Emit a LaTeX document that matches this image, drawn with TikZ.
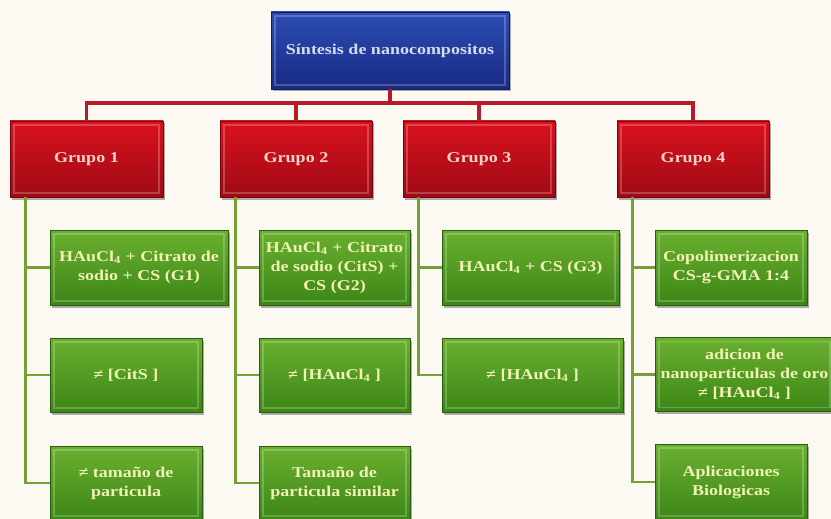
\documentclass[tikz,border=0pt]{standalone}
\usepackage{fontspec}
\setmainfont{Liberation Serif}[FakeStretch=1.2]
\usetikzlibrary{shadows,calc}
\definecolor{bgc}{HTML}{FBF9F1}
\definecolor{bluetop}{HTML}{2C4DB4}
\definecolor{bluebot}{HTML}{182A84}
\definecolor{bluetxt}{HTML}{D6DCEC}
\definecolor{redtop}{HTML}{D8121E}
\definecolor{redbot}{HTML}{A00A14}
\definecolor{redtxt}{HTML}{F6D4CC}
\definecolor{greentop}{HTML}{6AB030}
\definecolor{greenbot}{HTML}{3C8616}
\definecolor{greentxt}{HTML}{F2F2B4}
\definecolor{redln}{HTML}{B81A28}
\definecolor{greenln}{HTML}{76A036}
\tikzset{
  bevel/.style={path picture={
    \draw[white,opacity=0.22,line width=1.2pt]
      ([shift={(4pt,-4pt)}]path picture bounding box.north west) rectangle
      ([shift={(-4pt,4pt)}]path picture bounding box.south east);}},
  box/.style={rectangle, inner sep=2pt, align=center, font=\fontsize{15}{19}\selectfont\bfseries,
    drop shadow={shadow xshift=2pt, shadow yshift=-2.5pt, opacity=0.45, fill=black!70}, bevel},
  bluebox/.style={box, top color=bluetop, bottom color=bluebot, draw=bluebot!70!black, text=bluetxt},
  redbox/.style={box, top color=redtop, bottom color=redbot, draw=redbot!70!black, text=redtxt},
  greenbox/.style={box, top color=greentop, bottom color=greenbot, draw=greenbot!70!black, text=greentxt},
  redline/.style={draw=redln, line width=3.5pt},
  greenline/.style={draw=greenln, line width=2.8pt},
}
\begin{document}
\begin{tikzpicture}[x=1pt,y=-1pt]
\fill[bgc] (0,0) rectangle (831,519);
\useasboundingbox (0,0) rectangle (831,519);

\node[bluebox, minimum width=238pt, minimum height=77pt] (top) at (390,50.5) {Síntesis de nanocompositos};

\node[redbox, minimum width=153pt, minimum height=76pt] (g1) at (86.5,159) {Grupo 1};
\node[redbox, minimum width=152pt, minimum height=76pt] (g2) at (296,159) {Grupo 2};
\node[redbox, minimum width=152pt, minimum height=76pt] (g3) at (479,159) {Grupo 3};
\node[redbox, minimum width=152pt, minimum height=76pt] (g4) at (693,159) {Grupo 4};

\node[greenbox, minimum width=178pt, minimum height=75pt] (a1) at (139,267.5) {HAuCl\textsubscript{4} + Citrato de\\sodio + CS (G1)};
\node[greenbox, minimum width=152pt, minimum height=74pt] (a2) at (126,375) {≠ [CitS ]};
\node[greenbox, minimum width=152pt, minimum height=74pt] (a3) at (126,483) {≠ tamaño de\\particula};

\node[greenbox, minimum width=151pt, minimum height=75pt] (b1) at (334.5,267.5) {HAuCl\textsubscript{4} + Citrato\\de sodio (CitS) +\\CS (G2)};
\node[greenbox, minimum width=151pt, minimum height=74pt] (b2) at (334.5,375) {≠ [HAuCl\textsubscript{4} ]};
\node[greenbox, minimum width=151pt, minimum height=74pt] (b3) at (334.5,483) {Tamaño de\\particula similar};

\node[greenbox, minimum width=177pt, minimum height=75pt] (c1) at (530.5,267.5) {HAuCl\textsubscript{4} + CS (G3)};
\node[greenbox, minimum width=181pt, minimum height=74pt] (c2) at (532.5,375) {≠ [HAuCl\textsubscript{4} ]};

\node[greenbox, minimum width=152pt, minimum height=75pt] (d1) at (731,267.5) {Copolimerizacion\\CS-g-GMA 1:4};
\node[greenbox, minimum width=179pt, minimum height=74pt] (d2) at (744.5,374.5) {adicion de\\nanoparticulas de oro\\≠ [HAuCl\textsubscript{4} ]};
\node[greenbox, minimum width=152pt, minimum height=76pt] (d3) at (731,482) {Aplicaciones\\Biologicas};

% red connectors
\coordinate (bus) at (390,103);
\draw[redline] (top.south) -- (bus);
\draw[redline] (bus) -| (g1.north);
\draw[redline] (bus) -| (g2.north);
\draw[redline] (bus) -| (g3.north);
\draw[redline] (bus) -| (g4.north);

% green connectors
\coordinate (s1) at ($(g1.south west)+(15.5pt,0)$);
\coordinate (s2) at ($(g2.south west)+(15.5pt,0)$);
\coordinate (s3) at ($(g3.south west)+(15.5pt,0)$);
\coordinate (s4) at ($(g4.south west)+(15.5pt,0)$);
\foreach \s/\t in {s1/a1,s1/a2,s1/a3,s2/b1,s2/b2,s2/b3,s3/c1,s3/c2,s4/d1,s4/d2,s4/d3}
  \draw[greenline] (\s) |- (\t.west);
\end{tikzpicture}
\end{document}
